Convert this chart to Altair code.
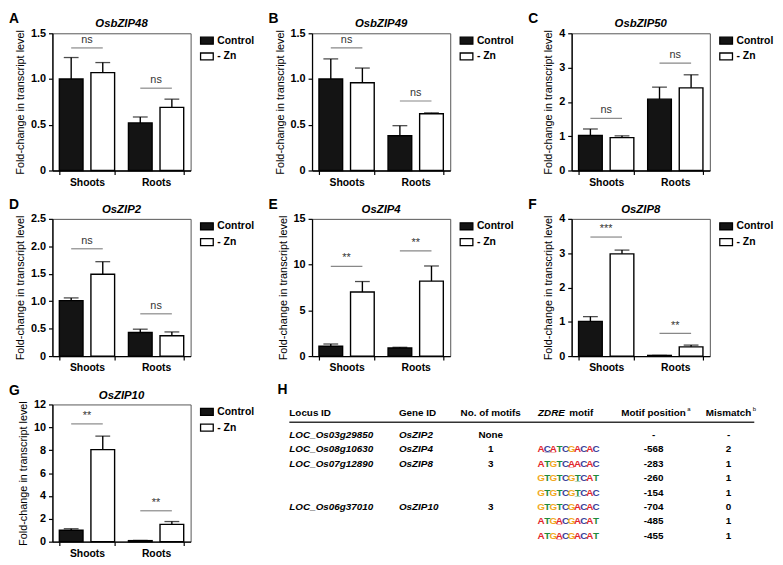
import altair as alt
import pandas as pd

# ---------------- data ----------------
groups = ["Shoots", "Roots"]
treatments = ["Control", "- Zn"]
panel_letters = ["A", "B", "C", "D", "E", "F", "G"]
gene_names = ["OsbZIP48", "OsbZIP49", "OsbZIP50", "OsZIP2", "OsZIP4", "OsZIP8", "OsZIP10"]
control_mean = [[1.00, 0.52], [1.00, 0.38], [1.02, 2.08], [1.01, 0.43], [1.07, 0.89], [1.01, 0.02], [1.00, 0.09]]
control_sd = [[0.235, 0.065], [0.22, 0.11], [0.19, 0.35], [0.05, 0.06], [0.25, 0.07], [0.14, 0.0], [0.13, 0.02]]
zn_mean = [[1.07, 0.69], [0.96, 0.62], [0.96, 2.41], [1.49, 0.37], [7.0, 8.2], [2.98, 0.27], [8.05, 1.51]]
zn_sd = [[0.11, 0.09], [0.16, 0.01], [0.05, 0.38], [0.23, 0.07], [1.15, 1.65], [0.11, 0.05], [1.18, 0.25]]
sig_labels = [["ns", "ns"], ["ns", "ns"], ["ns", "ns"], ["ns", "ns"], ["**", "**"], ["***", "**"], ["**", "**"]]
sig_heights = [[1.34, 0.90], [1.34, 0.76], [1.52, 3.13], [1.955, 0.77], [9.8, 11.5], [3.47, 0.66], [10.3, 2.7]]
y_max = [1.5, 1.5, 4, 2.5, 15, 4, 12]
y_ticks = [[0, 0.5, 1.0, 1.5], [0, 0.5, 1.0, 1.5], [0, 1, 2, 3, 4], [0, 0.5, 1.0, 1.5, 2.0, 2.5],
           [0, 5, 10, 15], [0, 1, 2, 3, 4], [0, 2, 4, 6, 8, 10, 12]]

table_headers = ["Locus ID", "Gene ID", "No. of motifs", "ZDRE", "motif", "Motif position", "Mismatch"]
header_superscripts = ["a", "b"]
locus_ids = ["LOC_Os03g29850", "LOC_Os08g10630", "LOC_Os07g12890", "LOC_Os06g37010"]
gene_ids = ["OsZIP2", "OsZIP4", "OsZIP8", "OsZIP10"]
motif_counts = ["None", "1", "3", "3"]
locus_rows = [0, 1, 2, 5]
motifs = ["", "ACATCGACAC", "ATGTCAACAC", "GTGTCGTCAT", "GTGTCGTCAC", "GTGTCGACAC", "ATGACGACAT", "ATGACGACAT"]
motif_positions = ["-", "-568", "-283", "-260", "-154", "-704", "-485", "-455"]
mismatches = ["-", "2", "1", "1", "1", "0", "1", "1"]
underlined = [[], [1, 2], [5], [6], [6], [], [3], [3]]
nucleotides = ["A", "C", "G", "T"]
nucleotide_colors = ["#e3262b", "#3b3f9a", "#f2a81d", "#1f8b3b"]

FONT = "Liberation Sans"
W, H = 140, 139

# ---------------- bar panels ----------------
P_IN, P_OUT, O_IN = 0.2, 0.1, 0.25
step = W / (2 - P_IN + 2 * P_OUT)
inner_step = step * (1 - P_IN) / (2 - O_IN)


def bar_panel(i):
    rows = []
    for gi, g in enumerate(groups):
        rows.append(dict(group=g, treat="Control", mean=control_mean[i][gi],
                         top=control_mean[i][gi] + control_sd[i][gi]))
        rows.append(dict(group=g, treat="- Zn", mean=zn_mean[i][gi],
                         top=zn_mean[i][gi] + zn_sd[i][gi]))
    df = pd.DataFrame(rows)
    sig = pd.DataFrame(dict(group=groups, y=sig_heights[i], label=sig_labels[i]))
    lab = pd.DataFrame(dict(t=[panel_letters[i]], g=[gene_names[i]]))

    fmt = ".1f" if any(v % 1 for v in y_ticks[i]) else "d"
    yscale = alt.Scale(domain=[0, y_max[i]], nice=False, zero=True)
    yaxis = alt.Axis(values=y_ticks[i], format=fmt, labelExpr="datum.value == 0 ? '0' : datum.label",
                     title="Fold-change in transcript level", grid=False, tickSize=4,
                     labelFontSize=11, labelFontWeight="bold", labelPadding=3,
                     titleFontSize=11, titleFontWeight="normal", titlePadding=5,
                     domainColor="black", domainWidth=1.3, tickColor="black", tickWidth=1.2,
                     labelColor="black", titleColor="black")
    x = alt.X("group:N", sort=groups, scale=alt.Scale(paddingInner=P_IN, paddingOuter=P_OUT),
              axis=alt.Axis(title=None, labelAngle=0, tickBand="extent", tickSize=4, labelPadding=3,
                            labelFontSize=10.5, labelFontWeight="bold", labelColor="black",
                            domainColor="black", domainWidth=1.3, tickColor="black", tickWidth=1.2))
    xo = alt.XOffset("treat:N", sort=treatments, scale=alt.Scale(paddingInner=O_IN))

    def Y(field):
        return alt.Y(field, scale=yscale, axis=yaxis)

    legend = alt.Legend(title=None, orient="right", offset=9, padding=0,
                        symbolType="M-1,-0.55H1V0.55H-1Z", symbolSize=165,
                        symbolStrokeColor="black", symbolStrokeWidth=1.3,
                        labelFont=FONT, labelFontSize=10.5, labelFontWeight="bold",
                        labelColor="black", labelOffset=3, rowPadding=2)
    bars = alt.Chart(df).mark_bar(stroke="black", strokeWidth=1.4).encode(
        x=x, xOffset=xo, y=Y("mean:Q"),
        fill=alt.Fill("treat:N", sort=treatments,
                      scale=alt.Scale(domain=treatments, range=["#141414", "#ffffff"]), legend=legend))
    err = alt.Chart(df).mark_bar(width=1.4, color="black").encode(
        x=x, xOffset=xo, y=Y("mean:Q"), y2="top:Q")
    cap = alt.Chart(df).mark_tick(color="black", thickness=1.3, size=15).encode(
        x=x, xOffset=xo, y=Y("top:Q"))
    sig_line = alt.Chart(sig).mark_tick(color="#555555", thickness=1.2, size=inner_step).encode(
        x=x, y=Y("y:Q"))
    sig_text = alt.Chart(sig).mark_text(dy=-3, baseline="bottom", fontSize=11, fill="#333333",
                                        font=FONT).encode(x=x, y=Y("y:Q"), text="label:N")
    letter = alt.Chart(lab).mark_text(x=-44, y=-14, align="left", baseline="middle", fontSize=14,
                                      fontWeight="bold", font=FONT, fill="black").encode(text="t:N")
    title = alt.Chart(lab).mark_text(x=W / 2, y=-9, align="center", baseline="middle", fontSize=11.5,
                                     fontWeight="bold", fontStyle="italic", font=FONT,
                                     fill="black").encode(text="g:N")
    return alt.layer(bars, err, cap, sig_line, sig_text, letter, title).properties(width=W, height=H)


# ---------------- table panel (H) ----------------
TW, TH = 500, H
X_LOCUS, X_GENE, X_COUNT, X_MOTIF, X_POS, X_MIS, X_END = 22, 133, 226, 274, 391, 467, 493
Y_H, Y_HEAD, Y_LINE, Y_ROW0, ROW_STEP = -15, 9, 18, 31, 14.6
PITCH = 6.17

xs = alt.Scale(domain=[0, TW], nice=False, zero=False)
ys = alt.Scale(domain=[0, TH], nice=False, zero=False, reverse=True)


def tx(field="x"):
    return alt.X(f"{field}:Q", scale=xs, axis=None)


def ty(field="y"):
    return alt.Y(f"{field}:Q", scale=ys, axis=None)


def txt(df, **kw):
    base = dict(font=FONT, fontSize=10, fontWeight="bold", fill="black", baseline="middle")
    base.update(kw)
    return alt.Chart(df).mark_text(**base).encode(x=tx(), y=ty(), text="t:N")


head_left = pd.DataFrame(dict(x=[X_LOCUS, X_GENE], y=[Y_HEAD] * 2, t=table_headers[:2]))
head_center = pd.DataFrame(dict(x=[X_COUNT, X_POS, X_MIS], y=[Y_HEAD] * 3,
                                t=[table_headers[2], table_headers[5], table_headers[6]]))
head_zdre = pd.DataFrame(dict(x=[X_MOTIF], y=[Y_HEAD], t=[table_headers[3]]))
head_motif = pd.DataFrame(dict(x=[X_MOTIF + 31.5], y=[Y_HEAD], t=[table_headers[4]]))
head_sup = pd.DataFrame(dict(x=[X_POS + 34, X_MIS + 24.5], y=[Y_HEAD - 4] * 2, t=header_superscripts))
h_letter = pd.DataFrame(dict(x=[10], y=[Y_H], t=["H"]))
hline = pd.DataFrame(dict(x=[X_LOCUS], x2=[X_END], y=[Y_LINE]))

row_y = [Y_ROW0 + ROW_STEP * r for r in range(len(motifs))]
ital = pd.DataFrame(dict(
    x=[X_LOCUS] * len(locus_ids) + [X_GENE] * len(gene_ids),
    y=[row_y[r] for r in locus_rows] * 2,
    t=locus_ids + gene_ids))
centered = pd.DataFrame(dict(
    x=[X_COUNT] * len(motif_counts) + [X_POS] * len(motif_positions) + [X_MIS] * len(mismatches),
    y=[row_y[r] for r in locus_rows] + row_y + row_y,
    t=motif_counts + motif_positions + mismatches))
letters_rows = []
under_rows = []
for r, m in enumerate(motifs):
    for k, ch in enumerate(m):
        cx = X_MOTIF + PITCH / 2 + PITCH * k
        letters_rows.append(dict(x=cx, y=row_y[r], t=ch, nt=ch))
        if k in underlined[r]:
            under_rows.append(dict(x=cx, y=row_y[r], t="_", nt=ch))
letters_df = pd.DataFrame(letters_rows)
under_df = pd.DataFrame(under_rows)
nt_color = alt.Color("nt:N", scale=alt.Scale(domain=nucleotides, range=nucleotide_colors), legend=None)

table = alt.layer(
    txt(h_letter, fontSize=14, align="left"),
    txt(head_left, align="left"),
    txt(head_center, align="center"),
    txt(head_zdre, align="left", fontStyle="italic"),
    txt(head_motif, align="left"),
    txt(head_sup, align="left", fontSize=6, fontWeight="normal"),
    alt.Chart(hline).mark_rule(color="#333333", strokeWidth=1.5).encode(x=tx(), x2="x2:Q", y=ty()),
    txt(ital, align="left", fontStyle="italic"),
    txt(centered, align="center"),
    alt.Chart(letters_df).mark_text(font=FONT, fontSize=10, fontWeight="bold", baseline="middle",
                                    align="center").encode(x=tx(), y=ty(), text="t:N", color=nt_color),
    alt.Chart(under_df).mark_text(font=FONT, fontSize=10, fontWeight="bold", baseline="middle",
                                  align="center").encode(x=tx(), y=ty(), text="t:N", color=nt_color),
).properties(width=TW, height=TH, view=alt.ViewConfig(strokeWidth=0))

# ---------------- layout ----------------
panels = [bar_panel(i) for i in range(7)]
row1 = alt.hconcat(panels[0], panels[1], panels[2], spacing=12).resolve_scale(fill="independent")
row2 = alt.hconcat(panels[3], panels[4], panels[5], spacing=12).resolve_scale(fill="independent")
row3 = alt.hconcat(panels[6], table, spacing=12).resolve_scale(fill="independent", color="independent")

chart = alt.vconcat(row1, row2, row3, spacing=9).resolve_scale(
    fill="independent", color="independent"
).properties(padding=0, background="white").configure_view(
    stroke="#555555", strokeWidth=1
).configure_text(font=FONT)

chart.save("out.html", embed_options={"renderer": "svg", "actions": False})
